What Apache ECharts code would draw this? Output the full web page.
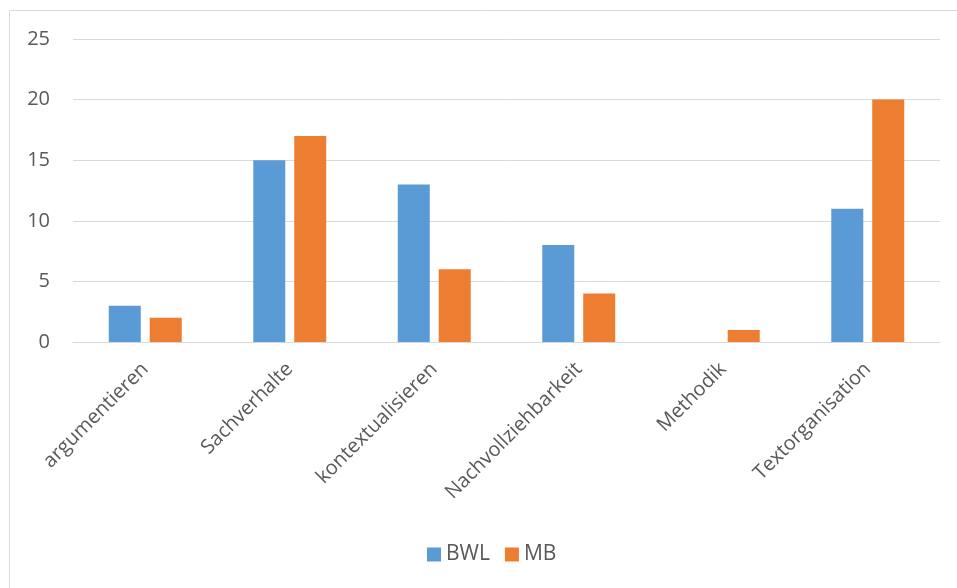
<!DOCTYPE html>
<html>
<head>
<meta charset="utf-8">
<script src="https://cdn.jsdelivr.net/npm/echarts@6/dist/echarts.min.js"></script>
<style>
html,body{margin:0;padding:0;background:#fff;}
#chart{width:957px;height:588px;}
</style>
</head>
<body>
<div id="chart"></div>
<script>
// Kategorien und Werte
const categories = ['argumentieren', 'Sachverhalte', 'kontextualisieren', 'Nachvollziehbarkeit', 'Methodik', 'Textorganisation'];
const bwl = [3, 15, 13, 8, 0, 11];
const mb = [2, 17, 6, 4, 1, 20];
const yTicks = { min: 0, max: 25, interval: 5 };

const font = '"Open Sans", "Noto Sans", sans-serif';
const chart = echarts.init(document.getElementById('chart'));
chart.setOption({
  animation: false,
  graphic: [{
    type: 'rect',
    shape: { x: 9.5, y: 10.5, width: 980, height: 600 },
    style: { fill: 'none', stroke: '#D9D9D9', lineWidth: 1 },
    silent: true
  }],
  legend: {
    top: 539,
    left: 422,
    itemWidth: 14,
    itemHeight: 14,
    itemGap: 15,
    icon: 'rect',
    textStyle: { color: '#595959', fontSize: 21, fontFamily: font },
    data: ['BWL', 'MB']
  },
  grid: { left: 73, right: 17, top: 39, bottom: 246 },
  xAxis: {
    type: 'category',
    data: categories,
    axisLine: { show: true, lineStyle: { color: '#D9D9D9', width: 1 } },
    axisTick: { show: false },
    axisLabel: { rotate: 45, color: '#595959', fontSize: 20, fontFamily: font, margin: 24, interval: 0 }
  },
  yAxis: {
    type: 'value',
    min: yTicks.min, max: yTicks.max, interval: yTicks.interval,
    axisLine: { show: false },
    axisTick: { show: false },
    axisLabel: { color: '#595959', fontSize: 20, fontFamily: font, margin: 23 },
    splitLine: { lineStyle: { color: '#D9D9D9', width: 1 } }
  },
  series: [
    { name: 'BWL', type: 'bar', data: bwl, barWidth: 32, barGap: '28%', itemStyle: { color: '#5B9BD5' } },
    { name: 'MB', type: 'bar', data: mb, barWidth: 32, itemStyle: { color: '#ED7D31' } }
  ]
});
</script>
</body>
</html>
